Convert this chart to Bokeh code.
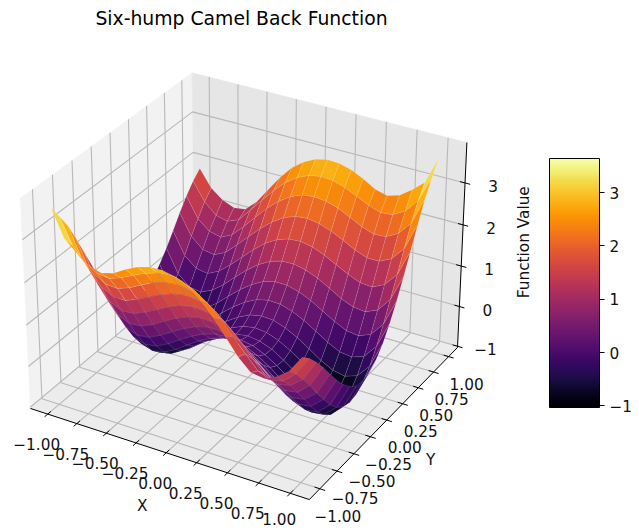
import numpy as np
from bokeh.core.properties import value
from bokeh.embed import file_html
from bokeh.models import ColorBar, ColumnDataSource, FixedTicker, LinearColorMapper, Range1d
from bokeh.palettes import Inferno256
from bokeh.plotting import figure
from bokeh.resources import INLINE

# ---------- data ----------
title_text = "Six-hump Camel Back Function"
x_label, y_label, z_label = "X", "Y", "Function Value"
x_vals = [-1.0, -0.9, -0.8, -0.7, -0.6, -0.5, -0.4, -0.3, -0.2, -0.1, 0.0, 0.1, 0.2, 0.3, 0.4, 0.5, 0.6, 0.7, 0.8, 0.9, 1.0]
y_vals = [-1.0, -0.9, -0.8, -0.7, -0.6, -0.5, -0.4, -0.3, -0.2, -0.1, 0.0, 0.1, 0.2, 0.3, 0.4, 0.5, 0.6, 0.7, 0.8, 0.9, 1.0]
z_rows = [
    [3.64, 3.02, 2.77, 2.56, 2.47, 2.55, 2.72, 2.86, 2.94, 2.95, 2.89, 2.75, 2.53, 2.22, 1.85, 1.47, 1.20, 1.16, 1.28, 1.50, 1.91],
    [3.31, 2.72, 2.40, 2.23, 2.20, 2.30, 2.44, 2.57, 2.66, 2.68, 2.63, 2.50, 2.30, 2.03, 1.71, 1.39, 1.08, 0.96, 1.03, 1.29, 1.73],
    [2.95, 2.32, 2.00, 1.84, 1.82, 1.92, 2.07, 2.21, 2.30, 2.33, 2.29, 2.17, 1.98, 1.73, 1.43, 1.12, 0.84, 0.70, 0.77, 1.00, 1.49],
    [2.50, 1.86, 1.53, 1.39, 1.39, 1.50, 1.65, 1.79, 1.89, 1.94, 1.91, 1.80, 1.61, 1.37, 1.09, 0.81, 0.54, 0.40, 0.45, 0.70, 1.21],
    [2.02, 1.38, 1.05, 0.91, 0.93, 1.05, 1.20, 1.35, 1.47, 1.52, 1.50, 1.40, 1.23, 0.99, 0.72, 0.45, 0.21, 0.07, 0.12, 0.36, 0.90],
    [1.55, 0.92, 0.58, 0.45, 0.48, 0.60, 0.77, 0.93, 1.05, 1.11, 1.10, 1.01, 0.85, 0.63, 0.37, 0.10, -0.12, -0.25, -0.21, 0.05, 0.60],
    [1.11, 0.47, 0.13, 0.01, 0.05, 0.19, 0.36, 0.53, 0.66, 0.74, 0.74, 0.66, 0.50, 0.29, 0.04, -0.22, -0.43, -0.55, -0.51, -0.24, 0.34],
    [0.72, 0.08, -0.26, -0.36, -0.32, -0.17, 0.01, 0.19, 0.33, 0.42, 0.43, 0.36, 0.21, 0.01, -0.23, -0.47, -0.68, -0.78, -0.74, -0.46, 0.13],
    [0.39, -0.25, -0.58, -0.68, -0.62, -0.47, -0.27, -0.08, 0.07, 0.17, 0.19, 0.13, -0.01, -0.20, -0.43, -0.67, -0.86, -0.96, -0.90, -0.61, -0.02],
    [0.15, -0.48, -0.80, -0.88, -0.82, -0.65, -0.45, -0.25, -0.09, 0.02, 0.05, 0.00, -0.13, -0.31, -0.53, -0.75, -0.94, -1.02, -0.96, -0.66, -0.05],
    [0.00, -0.62, -0.92, -1.00, -0.92, -0.75, -0.54, -0.33, -0.15, -0.04, 0.00, -0.04, -0.15, -0.33, -0.54, -0.75, -0.92, -1.00, -0.92, -0.62, 0.00],
    [-0.05, -0.66, -0.96, -1.02, -0.94, -0.75, -0.53, -0.31, -0.13, 0.00, 0.05, 0.02, -0.09, -0.25, -0.45, -0.65, -0.82, -0.88, -0.80, -0.48, 0.15],
    [-0.02, -0.61, -0.90, -0.96, -0.86, -0.67, -0.43, -0.20, -0.01, 0.13, 0.19, 0.17, 0.07, -0.08, -0.27, -0.47, -0.62, -0.68, -0.58, -0.25, 0.39],
    [0.13, -0.46, -0.74, -0.78, -0.68, -0.47, -0.23, 0.01, 0.21, 0.36, 0.43, 0.42, 0.33, 0.19, 0.01, -0.17, -0.32, -0.36, -0.26, 0.08, 0.72],
    [0.34, -0.24, -0.51, -0.55, -0.43, -0.22, 0.04, 0.29, 0.50, 0.66, 0.74, 0.74, 0.66, 0.53, 0.36, 0.19, 0.05, 0.01, 0.13, 0.47, 1.11],
    [0.60, 0.05, -0.21, -0.25, -0.12, 0.10, 0.37, 0.63, 0.85, 1.01, 1.10, 1.11, 1.05, 0.93, 0.77, 0.60, 0.48, 0.45, 0.58, 0.92, 1.55],
    [0.90, 0.36, 0.12, 0.07, 0.21, 0.45, 0.72, 0.99, 1.23, 1.40, 1.50, 1.52, 1.47, 1.35, 1.20, 1.05, 0.93, 0.91, 1.05, 1.38, 2.02],
    [1.21, 0.70, 0.45, 0.40, 0.54, 0.81, 1.09, 1.37, 1.61, 1.80, 1.91, 1.94, 1.89, 1.79, 1.65, 1.50, 1.39, 1.39, 1.53, 1.86, 2.50],
    [1.49, 1.00, 0.77, 0.70, 0.84, 1.12, 1.43, 1.73, 1.98, 2.17, 2.29, 2.33, 2.30, 2.21, 2.07, 1.92, 1.82, 1.84, 2.00, 2.32, 2.95],
    [1.73, 1.29, 1.03, 0.96, 1.08, 1.39, 1.71, 2.03, 2.30, 2.50, 2.63, 2.68, 2.66, 2.57, 2.44, 2.30, 2.20, 2.23, 2.40, 2.72, 3.31],
    [1.91, 1.50, 1.28, 1.16, 1.20, 1.47, 1.85, 2.22, 2.53, 2.75, 2.89, 2.95, 2.94, 2.86, 2.72, 2.55, 2.47, 2.56, 2.77, 3.02, 3.64],
]
x_ticks = [-1.0, -0.75, -0.5, -0.25, 0.0, 0.25, 0.5, 0.75, 1.0]
y_ticks = [-1.0, -0.75, -0.5, -0.25, 0.0, 0.25, 0.5, 0.75, 1.0]
z_ticks = [-1, 0, 1, 2, 3]
x_tick_labels = ["\u22121.00", "\u22120.75", "\u22120.50", "\u22120.25", "0.00", "0.25", "0.50", "0.75", "1.00"]
y_tick_labels = list(x_tick_labels)
z_tick_labels = ["\u22121", "0", "1", "2", "3"]
z_min, z_max = -1.03, 3.64

# ---------- layout & view ----------
W, H = 639, 531
SCALE, OX, OY = 2684.0, 247.4, 275.4
XLIM, YLIM, ZLIM = (-1.15, 1.15), (-1.15, 1.15), (-1.03, 3.95)
FONT = value("DejaVu Sans")
TICK_SIZE = "15.3px"

BOX = np.array([4, 4, 3]) * 1.8294640721620434 * 25 / 24 / np.sqrt(41)
U = np.array([np.sqrt(3) / 2, 0.5, 0.0])
V = np.array([-0.25, np.sqrt(3) / 4, np.sqrt(3) / 2])
N = np.array([np.sqrt(3) / 4, -0.75, 0.5])
DIST = 10.0


def project(x, y, z):
    """View the data box from elevation 30, azimuth -60, with perspective."""
    x, y, z = np.asarray(x, float), np.asarray(y, float), np.asarray(z, float)
    px = ((x - XLIM[0]) / (XLIM[1] - XLIM[0]) - 0.5) * BOX[0]
    py = ((y - YLIM[0]) / (YLIM[1] - YLIM[0]) - 0.5) * BOX[1]
    pz = ((z - ZLIM[0]) / (ZLIM[1] - ZLIM[0]) - 0.5) * BOX[2]
    depth = DIST - (N[0] * px + N[1] * py + N[2] * pz)
    return (U[0] * px + U[1] * py + U[2] * pz) / depth, (V[0] * px + V[1] * py + V[2] * pz) / depth, depth


p = figure(
    width=W, height=H, output_backend="svg", toolbar_location=None,
    x_axis_type=None, y_axis_type=None, min_border=0, outline_line_color=None,
    x_range=Range1d((0 - OX) / SCALE, (W - OX) / SCALE),
    y_range=Range1d((OY - H) / SCALE, OY / SCALE),
)
p.grid.visible = False
p.background_fill_color = "white"
p.border_fill_color = "white"

x0, x1 = XLIM
y0, y1 = YLIM
z0, z1 = ZLIM

# panes
panes = [
    ([x0, x0, x0, x0], [y0, y1, y1, y0], [z0, z0, z1, z1], "#f2f2f2"),
    ([x0, x1, x1, x0], [y1, y1, y1, y1], [z0, z0, z1, z1], "#e6e6e6"),
    ([x0, x1, x1, x0], [y0, y0, y1, y1], [z0, z0, z0, z0], "#ececec"),
]
for px_, py_, pz_, col in panes:
    a, b, _ = project(px_, py_, pz_)
    p.patch(a.tolist(), b.tolist(), fill_color=col, line_color=col, line_width=0.5)

# grid lines
grid_xs, grid_ys = [], []
for t in x_ticks:
    a, b, _ = project([t, t, t], [y0, y1, y1], [z0, z0, z1])
    grid_xs.append(a.tolist()); grid_ys.append(b.tolist())
for t in y_ticks:
    a, b, _ = project([x1, x0, x0], [t, t, t], [z0, z0, z1])
    grid_xs.append(a.tolist()); grid_ys.append(b.tolist())
for t in z_ticks:
    a, b, _ = project([x0, x0, x1], [y0, y1, y1], [t, t, t])
    grid_xs.append(a.tolist()); grid_ys.append(b.tolist())
p.multi_line(grid_xs, grid_ys, line_color="#b8b8b8", line_width=1.1)

# axis lines and tick marks
ax_xs, ax_ys = [], []
for q in [([x0, x1], [y0, y0], [z0, z0]), ([x1, x1], [y0, y1], [z0, z0]), ([x1, x1], [y1, y1], [z0, z1])]:
    a, b, _ = project(*q)
    ax_xs.append(a.tolist()); ax_ys.append(b.tolist())
dx, dy = (x1 - x0) * 0.018, (y1 - y0) * 0.018
for t in x_ticks:
    a, b, _ = project([t, t], [y0 - dy, y0 + dy], [z0, z0])
    ax_xs.append(a.tolist()); ax_ys.append(b.tolist())
for t in y_ticks:
    a, b, _ = project([x1 + dx, x1 - dx], [t, t], [z0, z0])
    ax_xs.append(a.tolist()); ax_ys.append(b.tolist())
for t in z_ticks:
    a, b, _ = project([x1 + dx, x1 - dx], [y1, y1], [t, t])
    ax_xs.append(a.tolist()); ax_ys.append(b.tolist())
p.multi_line(ax_xs, ax_ys, line_color="black", line_width=1.0)

# surface, far facets first
gx, gy = np.meshgrid(x_vals, y_vals)
gz = np.array(z_rows)
sx, sy, sd = project(gx, gy, gz)
quads = []
for j in range(gz.shape[0] - 1):
    for i in range(gz.shape[1] - 1):
        ji = [(j, i), (j, i + 1), (j + 1, i + 1), (j + 1, i)]
        quads.append((
            float(np.mean([sd[c] for c in ji])),
            [float(sx[c]) for c in ji],
            [float(sy[c]) for c in ji],
            float(np.mean([gz[c] for c in ji])),
        ))
quads.sort(key=lambda q: -q[0])
mapper = LinearColorMapper(palette=Inferno256, low=z_min, high=z_max)
src = ColumnDataSource(dict(xs=[q[1] for q in quads], ys=[q[2] for q in quads], z=[q[3] for q in quads]))
p.patches("xs", "ys", source=src, fill_color={"field": "z", "transform": mapper}, fill_alpha=1.0,
          line_color="white", line_alpha=0.2, line_width=0.5)


def labels(xv, yv, zv, texts, ox, oy, size=TICK_SIZE, angle=0.0):
    a, b, _ = project(xv, yv, zv)
    p.text(a.tolist(), b.tolist(), text=texts, x_offset=ox, y_offset=oy, angle=angle,
           text_font=FONT, text_font_size=size, text_align="center", text_baseline="middle", text_color="#111111")


labels(x_ticks[:-1], [y0] * 8, [z0] * 8, x_tick_labels[:-1], -11, 30)
labels(x_ticks[-1:], [y0], [z0], x_tick_labels[-1:], -11, 26)
labels([x1] * len(y_ticks), y_ticks, [z0] * len(y_ticks), y_tick_labels, 18, 27)
labels([x1] * len(z_ticks), [y1] * len(z_ticks), z_ticks, z_tick_labels, 28, 3)
labels([0.0], [y0], [z0], [x_label], -24, 53)
labels([x1], [0.0], [z0], [y_label], 44, 40)
labels([x1], [y1], [(z0 + z1) / 2], [z_label], 62, -5, angle=np.pi / 2)

# title placed with the plane scale
p.text([(241 - OX) / SCALE], [(OY - 18) / SCALE], text=[title_text], text_font=FONT, text_font_size="18.8px",
       text_align="center", text_baseline="middle", text_color="black")

cbar = ColorBar(
    color_mapper=mapper, ticker=FixedTicker(ticks=z_ticks),
    major_label_overrides={-1: "\u22121"},
    width=50, height=249, location=(549, H - 407), padding=0, margin=0,
    major_tick_in=0, major_tick_out=5, major_tick_line_color="black", bar_line_color="black",
    bar_line_width=1, major_label_text_font="DejaVu Sans", major_label_text_font_size=TICK_SIZE,
    major_label_text_color="#111111", label_standoff=5, background_fill_alpha=0, scale_alpha=1.0,
)
p.add_layout(cbar)

open("out.html", "w").write(file_html(p, INLINE))
